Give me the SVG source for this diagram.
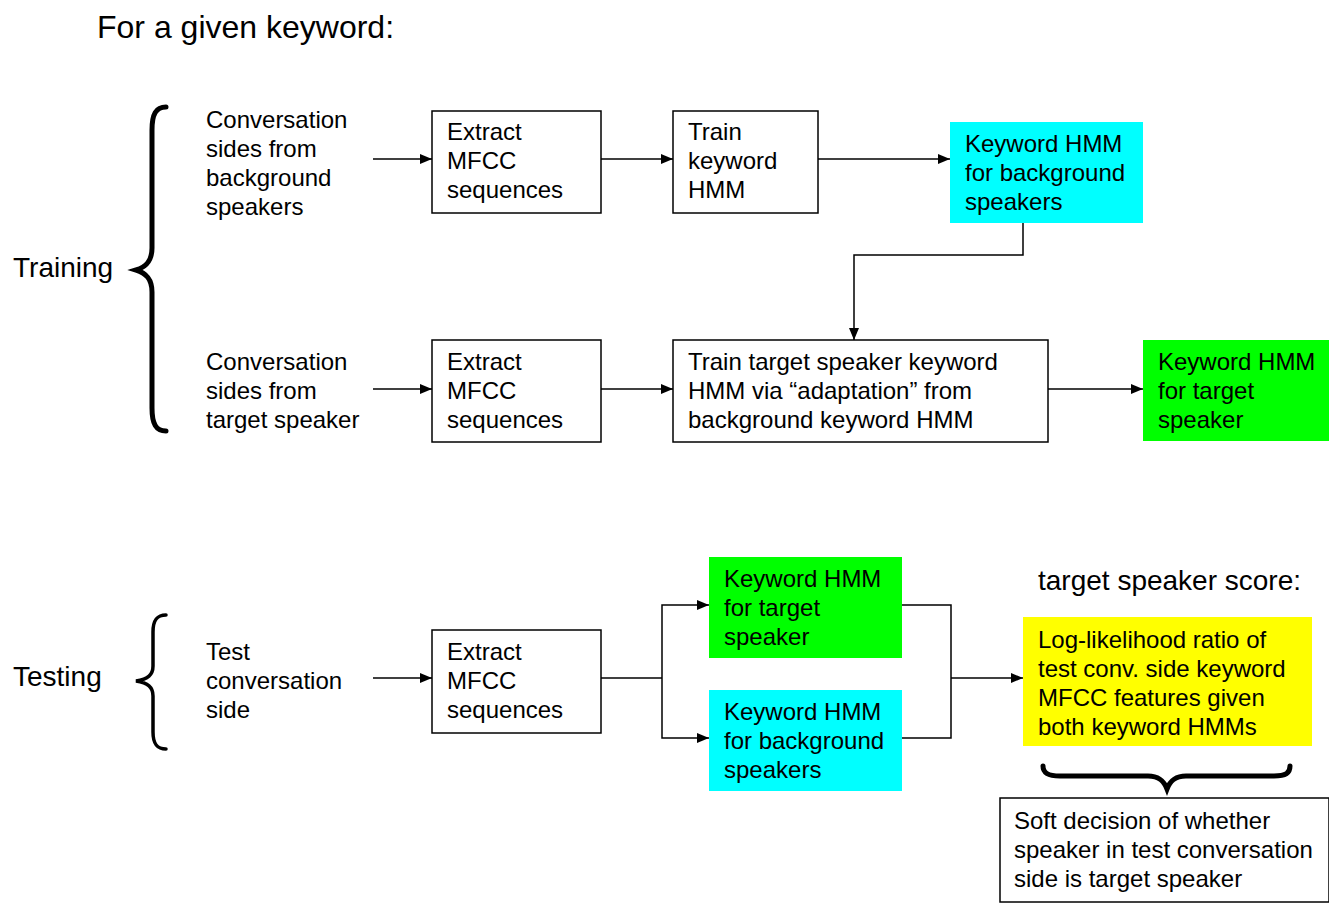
<svg xmlns="http://www.w3.org/2000/svg" width="1329" height="903" viewBox="0 0 1329 903">
  <style>
    text { font-family: "Liberation Sans", Arial, sans-serif; fill: #000; }
    .t { font-size: 24px; }
    .lbl { font-size: 28px; }
    .title { font-size: 32px; }
    .box { fill: #fff; stroke: #000; stroke-width: 1.5; }
    .cyan { fill: #00ffff; }
    .green { fill: #00ff00; }
    .yellow { fill: #ffff00; }
    .wire { fill: none; stroke: #000; stroke-width: 1.5; }
    .brace { fill: none; stroke: #000; stroke-linecap: round; }
  </style>
  <defs>
    <marker id="arrow" viewBox="0 0 12 10" refX="12" refY="5" markerWidth="12" markerHeight="10" markerUnits="userSpaceOnUse" orient="auto">
      <path d="M0,0 L12,5 L0,10 Z" fill="#000"/>
    </marker>
  </defs>
  <rect width="1329" height="903" fill="#fff"/>

  <text class="title" x="97" y="38">For a given keyword:</text>

  <!-- section labels and braces -->
  <g id="training">
    <text class="lbl" x="13" y="277">Training</text>
    <path class="brace" stroke-width="5" d="M166,107 C156,107 152,114 152,130 L152,248 C152,261 146,267 136,270 C146,273 152,279 152,292 L152,408 C152,424 156,431 166,431"/>
  </g>
  <g id="testing">
    <text class="lbl" x="13" y="686">Testing</text>
    <path class="brace" stroke-width="3.5" d="M166,615 C157,615 153,620 153,632 L153,666 C153,675 148,679 136,681 C148,683 153,687 153,696 L153,732 C153,744 157,749 166,749"/>
  </g>

  <!-- training, background row -->
  <g id="src-background">
    <text class="t" x="206" y="128">Conversation</text>
    <text class="t" x="206" y="157">sides from</text>
    <text class="t" x="206" y="186">background</text>
    <text class="t" x="206" y="215">speakers</text>
  </g>
  <g id="mfcc-background">
    <rect class="box" x="432" y="111" width="169" height="102"/>
    <text class="t" x="447" y="140">Extract</text>
    <text class="t" x="447" y="169">MFCC</text>
    <text class="t" x="447" y="198">sequences</text>
  </g>
  <g id="train-hmm">
    <rect class="box" x="673" y="111" width="145" height="102"/>
    <text class="t" x="688" y="140">Train</text>
    <text class="t" x="688" y="169">keyword</text>
    <text class="t" x="688" y="198">HMM</text>
  </g>
  <g id="hmm-background">
    <rect class="cyan" x="950" y="122" width="193" height="101"/>
    <text class="t" x="965" y="152">Keyword HMM</text>
    <text class="t" x="965" y="181">for background</text>
    <text class="t" x="965" y="210">speakers</text>
  </g>

  <!-- training, target row -->
  <g id="src-target">
    <text class="t" x="206" y="370">Conversation</text>
    <text class="t" x="206" y="399">sides from</text>
    <text class="t" x="206" y="428">target speaker</text>
  </g>
  <g id="mfcc-target">
    <rect class="box" x="432" y="340" width="169" height="102"/>
    <text class="t" x="447" y="370">Extract</text>
    <text class="t" x="447" y="399">MFCC</text>
    <text class="t" x="447" y="428">sequences</text>
  </g>
  <g id="adapt">
    <rect class="box" x="673" y="340" width="375" height="102"/>
    <text class="t" x="688" y="370">Train target speaker keyword</text>
    <text class="t" x="688" y="399">HMM via “adaptation” from</text>
    <text class="t" x="688" y="428">background keyword HMM</text>
  </g>
  <g id="hmm-target">
    <rect class="green" x="1143" y="340" width="186" height="101"/>
    <text class="t" x="1158" y="370">Keyword HMM</text>
    <text class="t" x="1158" y="399">for target</text>
    <text class="t" x="1158" y="428">speaker</text>
  </g>

  <!-- testing row -->
  <g id="src-test">
    <text class="t" x="206" y="660">Test</text>
    <text class="t" x="206" y="689">conversation</text>
    <text class="t" x="206" y="718">side</text>
  </g>
  <g id="mfcc-test">
    <rect class="box" x="432" y="630" width="169" height="103"/>
    <text class="t" x="447" y="660">Extract</text>
    <text class="t" x="447" y="689">MFCC</text>
    <text class="t" x="447" y="718">sequences</text>
  </g>
  <g id="test-hmm-target">
    <rect class="green" x="709" y="557" width="193" height="101"/>
    <text class="t" x="724" y="587">Keyword HMM</text>
    <text class="t" x="724" y="616">for target</text>
    <text class="t" x="724" y="645">speaker</text>
  </g>
  <g id="test-hmm-background">
    <rect class="cyan" x="709" y="690" width="193" height="101"/>
    <text class="t" x="724" y="720">Keyword HMM</text>
    <text class="t" x="724" y="749">for background</text>
    <text class="t" x="724" y="778">speakers</text>
  </g>
  <g id="score">
    <text class="lbl" x="1038" y="590">target speaker score:</text>
    <rect class="yellow" x="1023" y="617" width="289" height="129"/>
    <text class="t" x="1038" y="648">Log-likelihood ratio of</text>
    <text class="t" x="1038" y="677">test conv. side keyword</text>
    <text class="t" x="1038" y="706">MFCC features given</text>
    <text class="t" x="1038" y="735">both keyword HMMs</text>
    <path class="brace" stroke-width="5" d="M1043,766 C1043,773 1048,776 1060,776 L1148,776 C1159,776 1164,781 1167,789 C1170,781 1175,776 1186,776 L1274,776 C1286,776 1290,773 1290,766"/>
  </g>
  <g id="decision">
    <rect class="box" x="1000" y="798" width="329" height="104"/>
    <text class="t" x="1014" y="829">Soft decision of whether</text>
    <text class="t" x="1014" y="858">speaker in test conversation</text>
    <text class="t" x="1014" y="887">side is target speaker</text>
  </g>

  <!-- connectors -->
  <g id="connectors">
    <path class="wire" d="M373,159 H432" marker-end="url(#arrow)"/>
    <path class="wire" d="M601,159 H673" marker-end="url(#arrow)"/>
    <path class="wire" d="M818,159 H950" marker-end="url(#arrow)"/>
    <path class="wire" d="M1023,223 V255 H854 V340" marker-end="url(#arrow)"/>
    <path class="wire" d="M373,389 H432" marker-end="url(#arrow)"/>
    <path class="wire" d="M601,389 H673" marker-end="url(#arrow)"/>
    <path class="wire" d="M1048,389 H1143" marker-end="url(#arrow)"/>
    <path class="wire" d="M373,678 H432" marker-end="url(#arrow)"/>
    <path class="wire" d="M601,678 H662"/>
    <path class="wire" d="M662,678 V605 H709" marker-end="url(#arrow)"/>
    <path class="wire" d="M662,678 V738 H709" marker-end="url(#arrow)"/>
    <path class="wire" d="M902,605 H951 V738 H902"/>
    <path class="wire" d="M951,678 H1023" marker-end="url(#arrow)"/>
  </g>
</svg>
